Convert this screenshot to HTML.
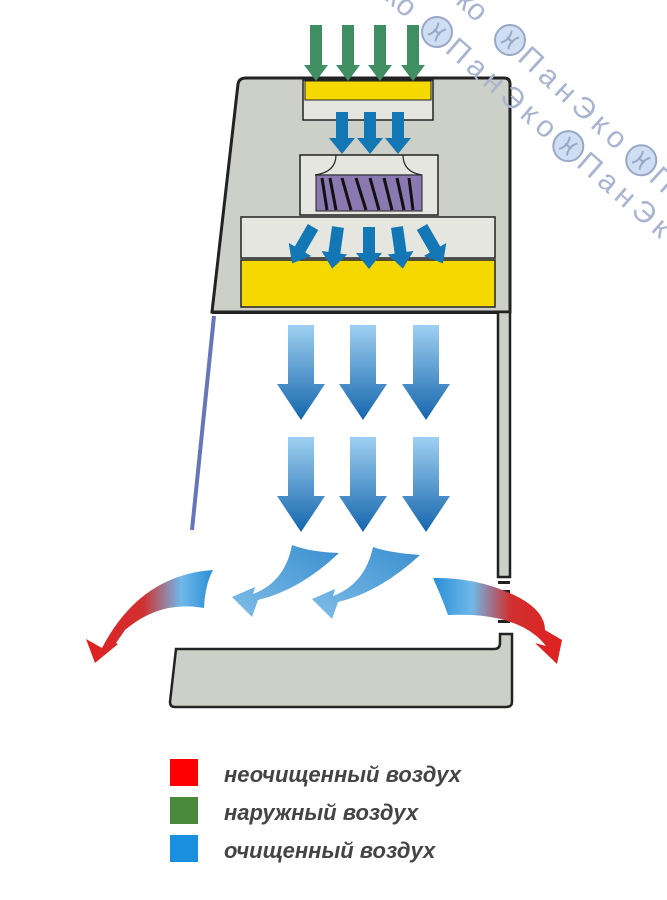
<!DOCTYPE html>
<html><head><meta charset="utf-8"><style>
html,body{margin:0;padding:0;background:#fff;width:667px;height:900px;overflow:hidden}
svg{display:block}
</style></head><body>
<svg width="667" height="900" viewBox="0 0 667 900" xmlns="http://www.w3.org/2000/svg">
<defs>
<linearGradient id="bg" x1="0" y1="0" x2="0" y2="1">
<stop offset="0" stop-color="#9fd0f2"/><stop offset="1" stop-color="#1566ad"/>
</linearGradient>
<linearGradient id="lr" x1="0" y1="0" x2="1" y2="0">
<stop offset="0" stop-color="#e02020"/><stop offset="0.45" stop-color="#d03030"/><stop offset="0.75" stop-color="#6fb8ea"/><stop offset="1" stop-color="#2a8fd6"/>
</linearGradient>
<linearGradient id="rr" x1="0" y1="0" x2="1" y2="0">
<stop offset="0" stop-color="#2a8fd6"/><stop offset="0.3" stop-color="#6fb8ea"/><stop offset="0.6" stop-color="#d03030"/><stop offset="1" stop-color="#e02020"/>
</linearGradient>
<linearGradient id="cb" x1="1" y1="0" x2="0" y2="1">
<stop offset="0" stop-color="#3a8fd0"/><stop offset="1" stop-color="#7fbde8"/>
</linearGradient>
<g id="da"><polygon points="-13,0 13,0 13,59 24,59 0,95 -24,59 -13,59" fill="url(#bg)"/></g>
<g id="ga"><polygon points="-6,0 6,0 6,40 12,40 0,56 -12,40 -6,40" fill="#3f8f63"/></g>
<g id="ba"><polygon points="-6,0 6,0 6,26 13,26 0,42 -13,26 -6,26" fill="#1477b5"/></g>
<g id="wc"><circle r="15" fill="#cfdef2" stroke="#9aa8c8" stroke-width="2"/><path d="M-5,-8 Q0,0 -5,8 M5,-8 Q0,0 5,8 M-4,0 L4,0" stroke="#9aa8c8" stroke-width="2" fill="none"/></g>
</defs>

<!-- cabinet -->
<path d="M246,78 L504,78 Q510,78 510,84 L510,312 L212,312 L238,84 Q239,78 246,78 Z" fill="#cdd0c8" stroke="#222" stroke-width="3"/>
<rect x="212" y="311" width="285" height="3" fill="#222"/>
<rect x="303" y="80" width="130" height="40" fill="#e4e6df" stroke="#222" stroke-width="1.5"/>
<rect x="305" y="81" width="126" height="19" fill="#f5d800" stroke="#222" stroke-width="1"/>
<rect x="300" y="155" width="138" height="60" fill="#e4e6df" stroke="#222" stroke-width="1.5"/>
<path d="M336,155 Q336,172 315,175 L422,175 Q403,172 403,155" fill="none" stroke="#222" stroke-width="1.2"/>
<rect x="316" y="175" width="106" height="36" fill="#8b78b0" stroke="#222" stroke-width="1"/>
<g stroke="#111" stroke-width="3">
<line x1="322" y1="178" x2="327" y2="210"/><line x1="330" y1="178" x2="336" y2="210"/><line x1="342" y1="178" x2="351" y2="210"/><line x1="356" y1="178" x2="366" y2="210"/><line x1="370" y1="178" x2="379" y2="210"/><line x1="384" y1="178" x2="392" y2="210"/><line x1="397" y1="178" x2="404" y2="210"/><line x1="409" y1="178" x2="413" y2="210"/>
</g>
<rect x="241" y="217" width="254" height="41" fill="#e4e6df" stroke="#222" stroke-width="1.5"/>
<rect x="241" y="260" width="254" height="47" fill="#f5d800" stroke="#222" stroke-width="1.5"/>

<!-- right wall -->
<rect x="498" y="312" width="12" height="265" fill="#cdd0c8" stroke="#222" stroke-width="2.5"/>
<rect x="498" y="581" width="12" height="3" fill="#222"/>
<rect x="498" y="590" width="12" height="3" fill="#222"/>
<rect x="498" y="620" width="12" height="3" fill="#222"/>
<!-- front glass -->
<line x1="214" y1="316" x2="192" y2="530" stroke="#6676b8" stroke-width="4"/>

<!-- tray -->
<path d="M176,649 L494,649 Q500,649 500,643 L500,634 L512,634 L512,702 Q512,707 506,707 L175,707 Q170,707 170,702 Z" fill="#cdd0c8" stroke="#222" stroke-width="2.5"/>

<!-- watermark -->
<g font-family="Liberation Sans, sans-serif" font-size="30" fill="#a8b4d0">
<g transform="translate(437,32) rotate(41)">
<text x="-62" y="10">ко</text>
<use href="#wc"/>
<text x="18" y="10" textLength="135">ПанЭко</text>
<use href="#wc" x="174"/>
<text x="192" y="10" textLength="135">ПанЭко</text>
</g>
<g transform="translate(510,40) rotate(42.5)">
<text x="-66" y="10">ко</text>
<use href="#wc"/>
<text x="18" y="10" textLength="135">ПанЭко</text>
<use href="#wc" x="178"/>
<text x="196" y="10">П</text>
</g>
</g>

<!-- green arrows -->
<use href="#ga" x="316" y="25"/><use href="#ga" x="348" y="25"/><use href="#ga" x="380" y="25"/><use href="#ga" x="413" y="25"/>
<!-- blue small arrows -->
<use href="#ba" x="342" y="112"/><use href="#ba" x="370" y="112"/><use href="#ba" x="398" y="112"/>
<use href="#ba" transform="translate(313,227) rotate(30)"/>
<use href="#ba" transform="translate(338,227) rotate(8)"/>
<use href="#ba" x="369" y="227"/>
<use href="#ba" transform="translate(397,227) rotate(-8)"/>
<use href="#ba" transform="translate(422,227) rotate(-30)"/>

<!-- big arrows -->
<use href="#da" x="301" y="325"/><use href="#da" x="363" y="325"/><use href="#da" x="426" y="325"/>
<use href="#da" x="301" y="437"/><use href="#da" x="363" y="437"/><use href="#da" x="426" y="437"/>

<!-- curved inner arrows -->
<path d="M292,545 Q310,552 339,553 Q300,590 258,600 L252,617 L232,597 L255,587 L253,594 Q285,582 292,545 Z" fill="url(#cb)"/>
<path d="M373,547 Q390,553 420,555 Q380,592 338,602 L332,619 L312,599 L335,589 L333,596 Q365,584 373,547 Z" fill="url(#cb)"/>

<!-- left red/blue arrow -->
<path d="M213,570 Q205,585 204,608 Q160,600 125,630 L116,643 L118,644 L95,663 L86,639 L102,648 Q140,575 213,570 Z" fill="url(#lr)"/>
<!-- right -->
<path d="M433,578 Q480,577 520,598 Q545,612 545,630 L562,640 L557,664 L535,643 L546,646 Q520,612 448,615 Q442,598 433,578 Z" fill="url(#rr)"/>

<!-- legend -->
<rect x="170" y="759" width="28" height="27" fill="#ff0000"/>
<rect x="170" y="797" width="28" height="27" fill="#4a8a3c"/>
<rect x="170" y="835" width="28" height="27" fill="#1a8fe0"/>
<g font-family="Liberation Sans, sans-serif" font-style="italic" font-weight="bold" font-size="22" fill="#444">
<text x="224" y="782">неочищенный воздух</text>
<text x="224" y="820">наружный воздух</text>
<text x="224" y="858">очищенный воздух</text>
</g>
</svg>
</body></html>
